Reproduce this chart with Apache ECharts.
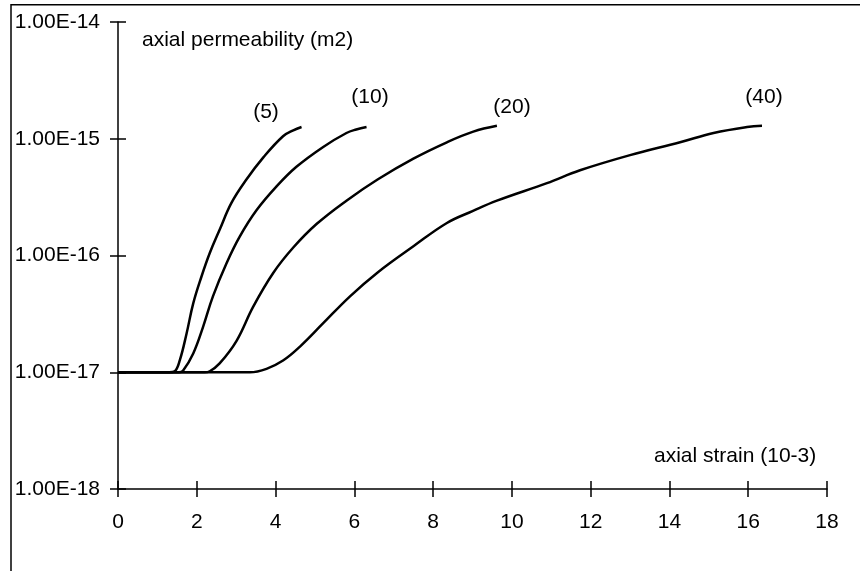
<!DOCTYPE html>
<html>
<head>
<meta charset="utf-8">
<script src="https://cdn.jsdelivr.net/npm/echarts@6/dist/echarts.min.js"></script>
<style>
  html, body { margin: 0; padding: 0; background: #fff; }
  #chart { width: 860px; height: 571px; }
</style>
</head>
<body>
<div id="chart"></div>
<script>
// Data (x: axial strain 10^-3, y: axial permeability m2)
const curve5 = [[0,1e-17],[1.3,1e-17],[1.44,1.02e-17],[1.57,1.27e-17],[1.74,2.14e-17],[1.91,3.89e-17],[2.12,6.61e-17],[2.33,1.05e-16],[2.58,1.66e-16],[2.88,2.82e-16],[3.26,4.47e-16],[3.69,6.92e-16],[4.19,1.05e-15],[4.45,1.18e-15],[4.66,1.26e-15]];
const curve10 = [[0,1e-17],[1.55,1e-17],[1.65,1.03e-17],[1.91,1.45e-17],[2.16,2.45e-17],[2.41,4.47e-17],[2.75,8.51e-17],[3.09,1.45e-16],[3.52,2.45e-16],[4.02,3.89e-16],[4.53,5.75e-16],[5.21,8.51e-16],[5.80,1.12e-15],[6.05,1.2e-15],[6.31,1.26e-15]];
const curve20 = [[0,1e-17],[2.2,1e-17],[2.33,1.02e-17],[2.58,1.19e-17],[3.01,1.86e-17],[3.43,3.63e-17],[3.94,7.08e-17],[4.45,1.17e-16],[5.04,1.86e-16],[5.80,2.95e-16],[6.6,4.5e-16],[7.50,6.76e-16],[8.35,9.33e-16],[9.02,1.15e-15],[9.62,1.29e-15]];
const curve40 = [[0,1e-17],[3.35,1e-17],[3.77,1.07e-17],[4.19,1.26e-17],[4.62,1.66e-17],[5.21,2.63e-17],[5.89,4.47e-17],[6.6,7.2e-17],[7.5,1.2e-16],[8.35,1.9e-16],[9.0,2.4e-16],[9.62,2.95e-16],[10.89,4.17e-16],[11.73,5.37e-16],[13.0,7.24e-16],[14.27,9.33e-16],[15.12,1.12e-15],[15.97,1.26e-15],[16.35,1.29e-15]];
const seriesNames = ['(5)', '(10)', '(20)', '(40)'];
const xMin = 0, xMax = 18, xInterval = 2;
const yMin = 1e-18, yMax = 1e-14;
const yTitle = 'axial permeability (m2)';
const xTitle = 'axial strain (10-3)';

const FONT = 'Liberation Sans, Arial, sans-serif';
const chart = echarts.init(document.getElementById('chart'));

const baseX = {
  type: 'value', min: xMin, max: xMax, interval: xInterval, position: 'bottom',
  splitLine: { show: false }
};
const baseY = {
  type: 'log', logBase: 10, min: yMin, max: yMax, position: 'left',
  splitLine: { show: false }, minorTick: { show: false }
};

function mkSeries(name, data) {
  return {
    name: name, type: 'line', data: data, xAxisIndex: 0, yAxisIndex: 0,
    showSymbol: false, smooth: 0.4,
    lineStyle: { color: '#000', width: 2.5 }, z: 3
  };
}

chart.setOption({
  animation: false,
  backgroundColor: '#fff',
  grid: { left: 118, right: 33, top: 22, bottom: 82, containLabel: false },
  xAxis: [
    Object.assign({}, baseX, {
      axisLine: { onZero: false, lineStyle: { color: '#000', width: 1.5 } },
      axisTick: { inside: false, length: 8, lineStyle: { color: '#000', width: 1.5 } },
      axisLabel: { color: '#000', fontSize: 21, fontFamily: FONT, margin: 23 }
    }),
    Object.assign({}, baseX, {
      axisLine: { show: false, onZero: false },
      axisTick: { inside: true, length: 8, lineStyle: { color: '#000', width: 1.5 } },
      axisLabel: { show: false }
    })
  ],
  yAxis: [
    Object.assign({}, baseY, {
      axisLine: { onZero: false, lineStyle: { color: '#000', width: 1.5 } },
      axisTick: { inside: false, length: 8, lineStyle: { color: '#000', width: 1.5 } },
      axisLabel: {
        color: '#000', fontSize: 21, fontFamily: FONT, margin: 18,
        formatter: function (v) { return Number(v).toExponential(2).toUpperCase(); }
      }
    }),
    Object.assign({}, baseY, {
      axisLine: { show: false, onZero: false },
      axisTick: { inside: true, length: 8, lineStyle: { color: '#000', width: 1.5 } },
      axisLabel: { show: false }
    })
  ],
  series: [
    mkSeries(seriesNames[0], curve5),
    mkSeries(seriesNames[1], curve10),
    mkSeries(seriesNames[2], curve20),
    mkSeries(seriesNames[3], curve40)
  ],
  graphic: [
    { type: 'line', shape: { x1: 11, y1: 4.75, x2: 860, y2: 4.75 }, style: { stroke: '#000', lineWidth: 1.5 } },
    { type: 'line', shape: { x1: 11, y1: 4, x2: 11, y2: 571 }, style: { stroke: '#000', lineWidth: 1.5 } },
    { type: 'text', x: 142, y: 40, style: { text: yTitle, font: '21px ' + FONT, fill: '#000', textAlign: 'left', textVerticalAlign: 'middle' } },
    { type: 'text', x: 654, y: 456, style: { text: xTitle, font: '21px ' + FONT, fill: '#000', textAlign: 'left', textVerticalAlign: 'middle' } },
    { type: 'text', x: 266, y: 112, style: { text: seriesNames[0], font: '21px ' + FONT, fill: '#000', textAlign: 'center', textVerticalAlign: 'middle' } },
    { type: 'text', x: 370, y: 97, style: { text: seriesNames[1], font: '21px ' + FONT, fill: '#000', textAlign: 'center', textVerticalAlign: 'middle' } },
    { type: 'text', x: 512, y: 107, style: { text: seriesNames[2], font: '21px ' + FONT, fill: '#000', textAlign: 'center', textVerticalAlign: 'middle' } },
    { type: 'text', x: 764, y: 97, style: { text: seriesNames[3], font: '21px ' + FONT, fill: '#000', textAlign: 'center', textVerticalAlign: 'middle' } }
  ]
});
</script>
</body>
</html>
